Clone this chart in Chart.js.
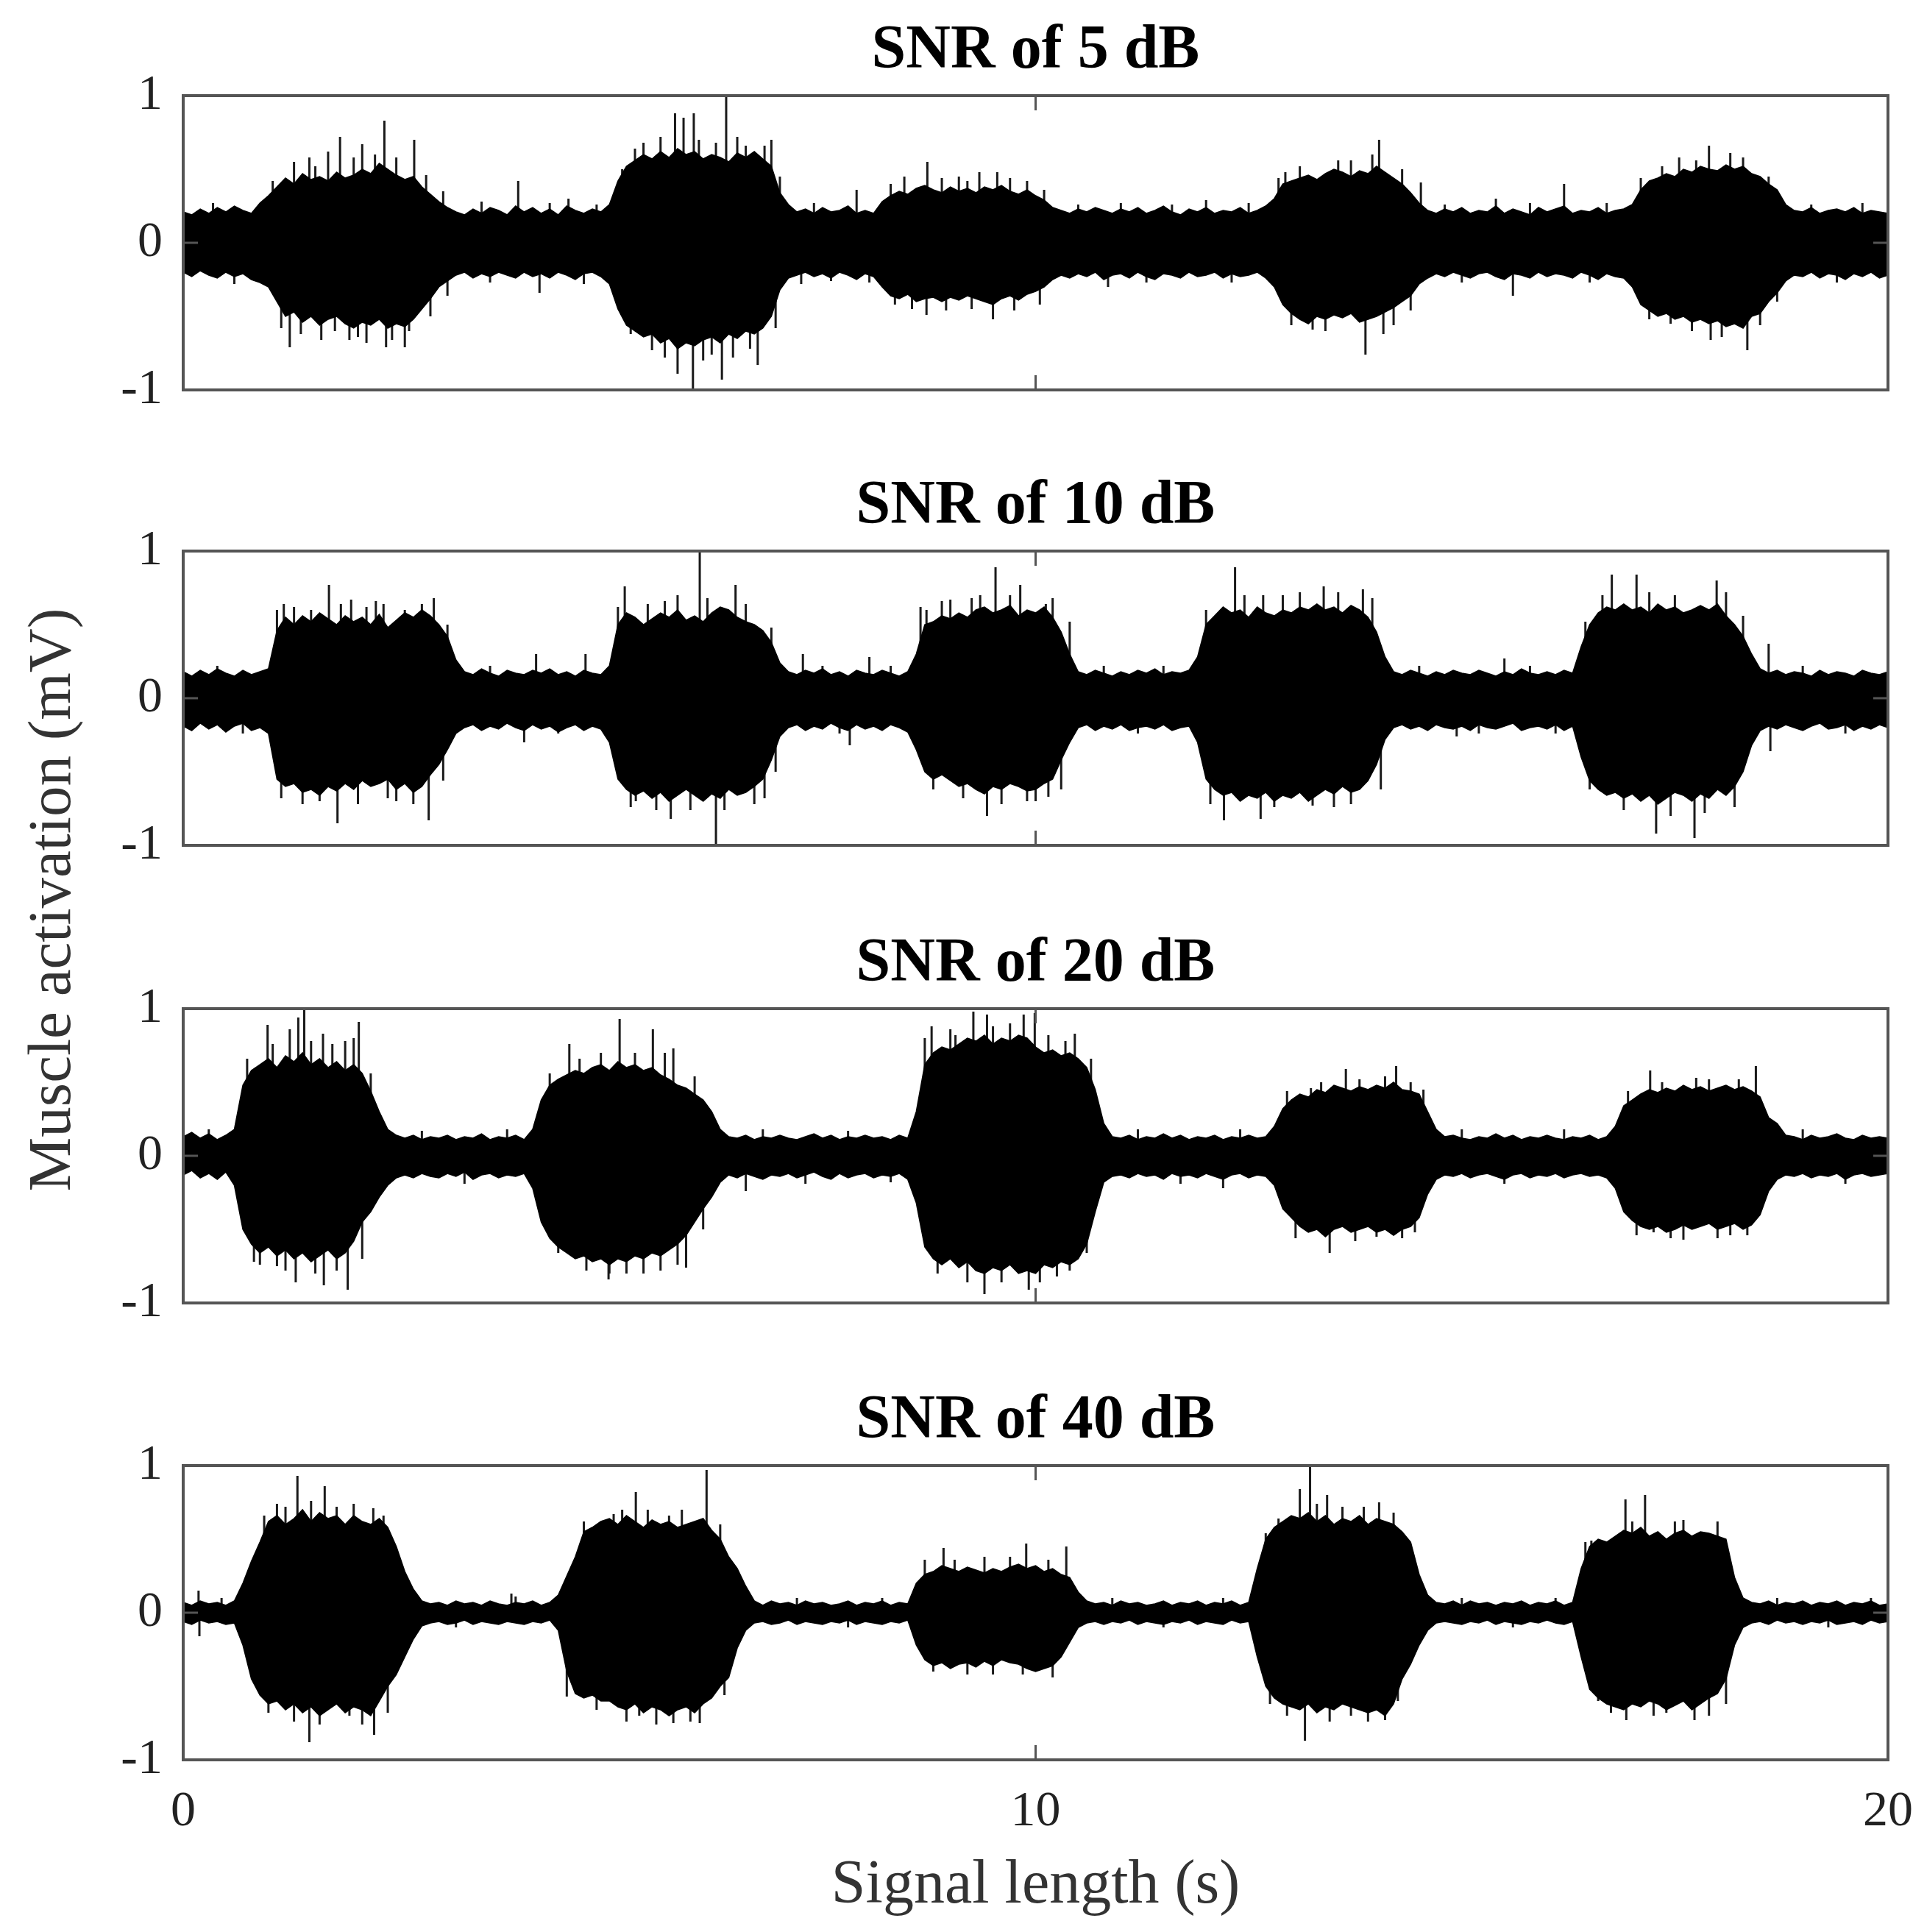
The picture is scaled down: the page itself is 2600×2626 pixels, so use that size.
<!DOCTYPE html>
<html>
<head>
<meta charset="utf-8">
<script src="https://cdn.jsdelivr.net/npm/chart.js@4.4.0/dist/chart.umd.min.js"></script>
<style>
  html, body { margin: 0; padding: 0; background: #fff; }
  body { width: 2600px; height: 2626px; position: relative; overflow: hidden; }
  canvas { position: absolute; left: 0; }
  #ylabel {
    position: absolute; left: 67px; top: 1223px;
    transform: translate(-50%, -50%) rotate(-90deg);
    font: 83px 'Liberation Serif', 'Times New Roman', serif;
    color: #333; white-space: nowrap;
  }
</style>
</head>
<body>
<div id="ylabel">Muscle activation (mV)</div>
<canvas id="c1"></canvas>
<canvas id="c2"></canvas>
<canvas id="c3"></canvas>
<canvas id="c4"></canvas>
<script>
// sample step of the envelopes (s), one value every 0.1 s from 0 to 20 s
const STEP = 0.1;
const SERIF = "'Liberation Serif', 'Times New Roman', serif";

const titles = ['SNR of 5 dB', 'SNR of 10 dB', 'SNR of 20 dB', 'SNR of 40 dB'];
const xTicks = [0, 10, 20];
const yTicks = [-1, 0, 1];

// SNR 5 dB : upper / lower envelope of the dense trace (mV)
const p1Hi = [
  0.21, 0.19, 0.23, 0.20, 0.24, 0.21, 0.25, 0.22, 0.20, 0.27,
  0.32, 0.38, 0.44, 0.40, 0.47, 0.43, 0.45, 0.42, 0.48, 0.44,
  0.46, 0.50, 0.47, 0.54, 0.50, 0.46, 0.43, 0.45, 0.38, 0.33,
  0.28, 0.24, 0.21, 0.19, 0.23, 0.20, 0.24, 0.22, 0.19, 0.25,
  0.21, 0.24, 0.20, 0.23, 0.19, 0.25, 0.22, 0.20, 0.23, 0.21,
  0.26, 0.42, 0.52, 0.56, 0.60, 0.57, 0.62, 0.58, 0.64, 0.60,
  0.62, 0.57, 0.60, 0.58, 0.55, 0.61, 0.58, 0.62, 0.57, 0.52,
  0.34, 0.26, 0.21, 0.23, 0.20, 0.24, 0.21, 0.22, 0.25, 0.20,
  0.22, 0.20, 0.28, 0.32, 0.35, 0.33, 0.37, 0.39, 0.36, 0.34,
  0.38, 0.35, 0.37, 0.34, 0.38, 0.36, 0.39, 0.35, 0.33, 0.36,
  0.32, 0.29, 0.24, 0.22, 0.20, 0.23, 0.21, 0.24, 0.22, 0.20,
  0.23, 0.21, 0.24, 0.20, 0.22, 0.25, 0.21, 0.19, 0.23, 0.21,
  0.24, 0.20, 0.22, 0.21, 0.24, 0.20, 0.22, 0.25, 0.30, 0.40,
  0.42, 0.44, 0.46, 0.43, 0.47, 0.50, 0.48, 0.45, 0.49, 0.47,
  0.52, 0.48, 0.44, 0.40, 0.34, 0.27, 0.22, 0.20, 0.23, 0.21,
  0.24, 0.20, 0.22, 0.21, 0.25, 0.20, 0.23, 0.21, 0.19, 0.24,
  0.21, 0.23, 0.25, 0.20, 0.22, 0.21, 0.24, 0.20, 0.22, 0.23,
  0.26, 0.36, 0.42, 0.44, 0.47, 0.45, 0.50, 0.48, 0.52, 0.50,
  0.49, 0.53, 0.50, 0.52, 0.47, 0.45, 0.40, 0.36, 0.26, 0.22,
  0.21, 0.24, 0.20, 0.22, 0.23, 0.21, 0.24, 0.20, 0.22, 0.21,
  0.20
];
const p1Lo = [
  -0.20, -0.23, -0.19, -0.22, -0.24, -0.20, -0.23, -0.21, -0.25, -0.27,
  -0.30, -0.40, -0.50, -0.47, -0.54, -0.50, -0.56, -0.52, -0.50, -0.55,
  -0.58, -0.54, -0.56, -0.52, -0.58, -0.55, -0.57, -0.52, -0.45, -0.38,
  -0.30, -0.26, -0.22, -0.20, -0.24, -0.21, -0.23, -0.20, -0.22, -0.24,
  -0.20, -0.23, -0.21, -0.24, -0.20, -0.22, -0.25, -0.21, -0.20, -0.23,
  -0.28, -0.45, -0.56, -0.60, -0.64, -0.62, -0.68, -0.65, -0.72, -0.68,
  -0.70, -0.66, -0.64, -0.68, -0.62, -0.65, -0.60, -0.62, -0.58, -0.50,
  -0.32, -0.24, -0.22, -0.20, -0.23, -0.21, -0.24, -0.20, -0.22, -0.25,
  -0.21, -0.23, -0.30, -0.36, -0.38, -0.35, -0.40, -0.38, -0.37, -0.40,
  -0.37, -0.39, -0.36, -0.38, -0.40, -0.42, -0.38, -0.36, -0.39, -0.35,
  -0.33, -0.30, -0.25, -0.22, -0.24, -0.21, -0.23, -0.20, -0.25, -0.22,
  -0.21, -0.24, -0.20, -0.23, -0.25, -0.21, -0.22, -0.24, -0.20, -0.23,
  -0.22, -0.20, -0.24, -0.21, -0.23, -0.22, -0.20, -0.24, -0.30, -0.42,
  -0.48, -0.52, -0.55, -0.50, -0.52, -0.49, -0.51, -0.48, -0.54, -0.52,
  -0.50, -0.47, -0.44, -0.40, -0.36, -0.28, -0.24, -0.21, -0.23, -0.20,
  -0.22, -0.24, -0.21, -0.20, -0.23, -0.25, -0.21, -0.22, -0.24, -0.20,
  -0.23, -0.21, -0.22, -0.24, -0.20, -0.22, -0.25, -0.21, -0.23, -0.24,
  -0.30, -0.42, -0.46, -0.50, -0.48, -0.52, -0.50, -0.54, -0.52, -0.55,
  -0.53, -0.57, -0.55, -0.58, -0.50, -0.48, -0.40, -0.34, -0.26, -0.22,
  -0.23, -0.20, -0.24, -0.21, -0.22, -0.25, -0.21, -0.23, -0.20, -0.24,
  -0.22
];
// tall isolated peaks: time (s) and value (mV)
const p1SpikeT = [1.25, 1.48, 1.84, 1.95, 2.1, 2.15, 2.36, 2.38, 2.6, 2.71, 3.93, 4.18, 4.52,
  5.4, 5.5, 5.77, 5.8, 5.87, 5.98, 5.99, 6.1, 6.32, 6.37, 6.5, 6.74, 6.9, 7.25, 7.9,
  8.46, 8.55, 8.72, 8.73, 9.1, 9.34, 9.5, 9.55, 10.85, 12.0, 12.93, 13.25, 13.55, 13.87,
  14.03, 14.08, 14.52, 15.4, 15.6, 16.2, 17.45, 17.55, 17.9, 17.92, 18.15, 18.35];
const p1SpikeV = [-0.71, 0.58, 0.72, -0.66, 0.67, -0.68, 0.83, -0.71, -0.71, 0.70, 0.42, -0.34, 0.30,
  0.68, -0.73, 0.88, -0.89, 0.85, -1.0, 0.88, -0.80, -0.93, 1.0, 0.72, -0.83, 0.70, -0.28, 0.36,
  0.45, -0.45, -0.49, 0.55, 0.45, 0.48, -0.52, 0.48, -0.30, 0.29, 0.48, -0.59, 0.56, -0.76,
  0.70, -0.62, 0.41, 0.30, -0.36, 0.40, -0.55, 0.58, 0.66, -0.66, 0.61, -0.73];
// smaller peaks just past the envelope
const p1SmallT = [0.35, 0.6, 1.05, 1.15, 1.3, 1.38, 1.55, 1.62, 1.7, 1.78, 2.0, 2.05, 2.25, 2.45,
  2.5, 2.65, 2.85, 2.9, 3.05, 3.1, 3.5, 3.6, 4.3, 4.7, 4.85, 5.15, 5.25, 5.3, 5.6, 5.65, 6.05,
  6.2, 6.25, 6.45, 6.6, 6.65, 6.82, 6.95, 7.0, 7.4, 7.6, 8.05, 8.3, 8.35, 8.9, 8.95, 9.2, 9.25,
  9.7, 9.75, 9.9, 10.05, 10.1, 10.5, 11.0, 11.3, 11.6, 12.3, 12.5, 12.85, 13.0, 13.1, 13.4,
  13.7, 13.95, 14.2, 14.3, 14.4, 14.8, 15.0, 15.8, 16.5, 16.7, 17.1, 17.2, 17.35, 17.7, 17.75,
  18.05, 18.3, 18.5, 18.6, 18.7, 19.1, 19.4, 19.7];
const p1SmallV = [0.27, -0.28, 0.42, -0.58, 0.55, -0.62, 0.52, -0.66, 0.62, -0.60, 0.58, -0.64, 0.60, -0.66,
  0.58, -0.60, 0.46, -0.50, 0.35, -0.36, 0.28, -0.27, 0.27, -0.28, 0.26, 0.50, -0.62, 0.64, 0.72, -0.78, 0.70,
  -0.76, 0.68, -0.78, 0.66, -0.72, 0.66, -0.58, 0.45, 0.27, -0.26, -0.27, 0.40, -0.42, 0.44, -0.46, 0.42, -0.45,
  0.44, -0.46, 0.42, -0.42, 0.36, 0.26, 0.27, -0.27, 0.26, -0.27, 0.27, 0.44, -0.56, 0.52, -0.60,
  0.56, 0.60, -0.56, 0.50, -0.46, 0.26, -0.27, 0.27, -0.27, 0.27, 0.44, -0.52, 0.52, -0.60, 0.56,
  -0.64, 0.58, -0.56, 0.45, -0.40, 0.26, -0.27, 0.27];

// SNR 10 dB
const p2Hi = [
  0.18, 0.15, 0.19, 0.16, 0.20, 0.17, 0.15, 0.19, 0.16, 0.18,
  0.20, 0.46, 0.55, 0.50, 0.56, 0.52, 0.58, 0.54, 0.50, 0.56,
  0.52, 0.55, 0.50, 0.57, 0.48, 0.53, 0.58, 0.55, 0.60, 0.56,
  0.50, 0.42, 0.26, 0.18, 0.16, 0.20, 0.17, 0.15, 0.19, 0.17,
  0.16, 0.19, 0.17, 0.20, 0.16, 0.18, 0.15, 0.19, 0.17, 0.16,
  0.22, 0.50, 0.58, 0.55, 0.50, 0.54, 0.58, 0.55, 0.60, 0.53,
  0.56, 0.52, 0.58, 0.62, 0.60, 0.55, 0.52, 0.50, 0.46, 0.38,
  0.24, 0.18, 0.16, 0.19, 0.17, 0.20, 0.16, 0.18, 0.15, 0.19,
  0.17, 0.16, 0.19, 0.17, 0.15, 0.18, 0.30, 0.50, 0.52, 0.56,
  0.54, 0.58, 0.55, 0.60, 0.62, 0.58, 0.60, 0.63, 0.56, 0.60,
  0.58, 0.62, 0.55, 0.45, 0.30, 0.18, 0.16, 0.19, 0.17, 0.15,
  0.18, 0.16, 0.19, 0.17, 0.20, 0.16, 0.18, 0.17, 0.19, 0.28,
  0.50, 0.56, 0.62, 0.58, 0.60, 0.55, 0.62, 0.58, 0.56, 0.60,
  0.58, 0.62, 0.60, 0.64, 0.60, 0.62, 0.58, 0.63, 0.60, 0.55,
  0.45, 0.28, 0.18, 0.16, 0.19, 0.17, 0.15, 0.18, 0.16, 0.19,
  0.17, 0.16, 0.19, 0.17, 0.15, 0.18, 0.16, 0.20, 0.17, 0.16,
  0.18, 0.16, 0.19, 0.17, 0.35, 0.50, 0.58, 0.62, 0.60, 0.64,
  0.60, 0.62, 0.58, 0.64, 0.60, 0.62, 0.58, 0.60, 0.63, 0.60,
  0.64, 0.56, 0.50, 0.42, 0.30, 0.20, 0.17, 0.19, 0.16, 0.18,
  0.17, 0.15, 0.19, 0.16, 0.18, 0.17, 0.15, 0.19, 0.17, 0.16,
  0.18
];
const p2Lo = [
  -0.19, -0.22, -0.17, -0.21, -0.18, -0.23, -0.19, -0.17, -0.22, -0.20,
  -0.24, -0.55, -0.60, -0.58, -0.64, -0.62, -0.66, -0.60, -0.63, -0.58,
  -0.62, -0.56, -0.60, -0.58, -0.55, -0.62, -0.58, -0.64, -0.60, -0.52,
  -0.45, -0.35, -0.24, -0.20, -0.18, -0.22, -0.19, -0.21, -0.17, -0.20,
  -0.22, -0.18, -0.21, -0.19, -0.23, -0.20, -0.18, -0.22, -0.19, -0.21,
  -0.30, -0.55, -0.62, -0.66, -0.63, -0.68, -0.64, -0.70, -0.66, -0.62,
  -0.66, -0.70, -0.65, -0.68, -0.62, -0.66, -0.64, -0.60, -0.55, -0.42,
  -0.26, -0.20, -0.18, -0.22, -0.19, -0.21, -0.17, -0.20, -0.22, -0.18,
  -0.21, -0.19, -0.22, -0.18, -0.20, -0.23, -0.35, -0.50, -0.55, -0.52,
  -0.56, -0.60, -0.58, -0.62, -0.65, -0.60, -0.62, -0.58, -0.60, -0.63,
  -0.62, -0.58, -0.55, -0.42, -0.30, -0.20, -0.18, -0.22, -0.19, -0.21,
  -0.18, -0.22, -0.20, -0.19, -0.21, -0.18, -0.22, -0.20, -0.19, -0.30,
  -0.55, -0.62, -0.66, -0.64, -0.70, -0.66, -0.68, -0.64, -0.70, -0.66,
  -0.68, -0.64, -0.70, -0.66, -0.62, -0.65, -0.60, -0.64, -0.62, -0.56,
  -0.45, -0.28, -0.20, -0.18, -0.21, -0.19, -0.22, -0.18, -0.20, -0.21,
  -0.19, -0.22, -0.18, -0.20, -0.21, -0.19, -0.17, -0.22, -0.20, -0.19,
  -0.21, -0.18, -0.22, -0.19, -0.40, -0.56, -0.62, -0.66, -0.64, -0.68,
  -0.65, -0.70, -0.66, -0.72, -0.68, -0.64, -0.66, -0.70, -0.65, -0.68,
  -0.62, -0.66, -0.60, -0.50, -0.32, -0.22, -0.19, -0.21, -0.18, -0.20,
  -0.22, -0.19, -0.17, -0.21, -0.20, -0.18, -0.22, -0.19, -0.21, -0.18,
  -0.20
];
const p2SpikeT = [1.18, 1.71, 1.81, 1.97, 2.26, 2.5, 2.88, 2.94, 4.0, 4.14, 4.72,
  5.18, 5.31, 5.72, 5.8, 6.06, 6.25, 6.48, 6.82, 7.27, 7.82, 8.05, 8.72, 9.0, 9.43, 9.53,
  9.82, 9.9, 10.12, 10.15, 12.21, 12.34, 12.64, 12.67, 13.25, 13.38, 13.84, 14.94, 15.5,
  16.76, 17.05, 17.28, 17.73, 17.99, 18.6, 18.62];
const p2SpikeV = [0.64, 0.77, -0.85, 0.67, 0.66, -0.70, -0.83, 0.68, -0.30, 0.30, 0.30,
  0.76, -0.70, -0.82, 0.70, 1.0, -1.0, 0.77, -0.68, 0.30, -0.32, 0.28, 0.60, 0.67, -0.80, 0.89,
  0.77, -0.70, 0.64, -0.67, -0.83, 0.89, -0.82, 0.70, -0.73, 0.76, 0.74, -0.26, 0.27,
  0.84, 0.84, -0.92, -0.95, 0.80, 0.37, -0.36];
const p2SmallT = [0.4, 0.7, 1.1, 1.15, 1.3, 1.4, 1.5, 1.6, 1.85, 2.05, 2.15, 2.35, 2.4, 2.6, 2.7,
  2.8, 3.05, 3.1, 3.6, 4.4, 5.1, 5.25, 5.45, 5.55, 5.65, 5.95, 6.15, 6.35, 6.6, 6.7, 6.9, 6.95,
  7.5, 7.7, 8.3, 8.65, 8.8, 8.9, 9.15, 9.25, 9.35, 9.6, 9.7, 10.0, 10.2, 10.3, 10.4, 10.8, 11.2,
  11.5, 12.0, 12.05, 12.45, 12.8, 12.9, 13.1, 13.5, 13.55, 13.7, 13.95, 14.05, 14.5, 15.2, 15.8,
  16.1, 16.45, 16.5, 16.65, 16.9, 17.2, 17.45, 17.5, 17.85, 18.1, 18.2, 18.3, 19.0, 19.5];
const p2SmallV = [0.22, -0.24, 0.60, -0.68, 0.62, -0.72, 0.60, -0.70, 0.64, -0.72, 0.62, 0.64, -0.68, 0.60, -0.72,
  0.64, -0.56, 0.50, 0.22, -0.24, 0.62, -0.74, 0.64, -0.76, 0.66, -0.76, 0.68, -0.76, 0.64, -0.72, 0.48, -0.50,
  0.22, -0.24, 0.22, 0.62, -0.62, 0.66, -0.68, 0.68, 0.70, -0.72, 0.70, -0.70, 0.68, -0.62, 0.52, 0.22, -0.24,
  0.22, 0.60, -0.72, 0.70, -0.74, 0.70, 0.72, -0.74, 0.72, -0.72, 0.68, -0.62, 0.22, -0.24, 0.22,
  -0.24, 0.52, -0.62, 0.70, -0.76, 0.72, -0.80, 0.70, -0.78, 0.72, -0.74, 0.56, 0.22, -0.24];

// SNR 20 dB
const p3Hi = [
  0.13, 0.16, 0.12, 0.15, 0.11, 0.14, 0.18, 0.48, 0.58, 0.62,
  0.66, 0.60, 0.68, 0.64, 0.70, 0.62, 0.66, 0.60, 0.64, 0.58,
  0.62, 0.56, 0.44, 0.30, 0.18, 0.14, 0.12, 0.14, 0.11, 0.13,
  0.12, 0.14, 0.11, 0.13, 0.12, 0.15, 0.11, 0.13, 0.12, 0.14,
  0.11, 0.18, 0.38, 0.48, 0.52, 0.55, 0.58, 0.56, 0.60, 0.62,
  0.58, 0.64, 0.60, 0.62, 0.58, 0.60, 0.55, 0.52, 0.48, 0.46,
  0.42, 0.38, 0.30, 0.18, 0.13, 0.12, 0.14, 0.11, 0.13, 0.12,
  0.14, 0.12, 0.11, 0.13, 0.15, 0.12, 0.14, 0.11, 0.13, 0.12,
  0.14, 0.12, 0.13, 0.11, 0.14, 0.12, 0.30, 0.62, 0.70, 0.74,
  0.72, 0.76, 0.80, 0.78, 0.82, 0.76, 0.80, 0.78, 0.82, 0.80,
  0.74, 0.70, 0.72, 0.68, 0.70, 0.66, 0.60, 0.45, 0.22, 0.13,
  0.12, 0.14, 0.11, 0.13, 0.12, 0.15, 0.12, 0.14, 0.11, 0.13,
  0.12, 0.14, 0.11, 0.13, 0.12, 0.14, 0.12, 0.13, 0.20, 0.32,
  0.38, 0.42, 0.40, 0.45, 0.43, 0.48, 0.46, 0.44, 0.47, 0.45,
  0.48, 0.46, 0.50, 0.45, 0.44, 0.42, 0.30, 0.18, 0.13, 0.14,
  0.12, 0.11, 0.13, 0.12, 0.15, 0.12, 0.14, 0.11, 0.13, 0.12,
  0.14, 0.12, 0.11, 0.13, 0.12, 0.14, 0.11, 0.13, 0.20, 0.34,
  0.38, 0.42, 0.45, 0.43, 0.46, 0.44, 0.48, 0.45, 0.47, 0.44,
  0.46, 0.48, 0.45, 0.47, 0.44, 0.40, 0.26, 0.22, 0.14, 0.13,
  0.11, 0.14, 0.12, 0.13, 0.15, 0.12, 0.11, 0.14, 0.12, 0.13,
  0.12
];
const p3Lo = [
  -0.13, -0.10, -0.15, -0.12, -0.16, -0.11, -0.20, -0.50, -0.60, -0.66,
  -0.62, -0.68, -0.64, -0.70, -0.66, -0.72, -0.68, -0.64, -0.70, -0.66,
  -0.58, -0.45, -0.38, -0.28, -0.20, -0.15, -0.13, -0.15, -0.12, -0.14,
  -0.15, -0.12, -0.14, -0.11, -0.16, -0.13, -0.12, -0.15, -0.13, -0.14,
  -0.12, -0.22, -0.45, -0.56, -0.62, -0.66, -0.70, -0.68, -0.72, -0.70,
  -0.74, -0.70, -0.72, -0.68, -0.70, -0.66, -0.68, -0.64, -0.60, -0.54,
  -0.45, -0.36, -0.28, -0.18, -0.13, -0.15, -0.12, -0.14, -0.16, -0.13,
  -0.14, -0.12, -0.15, -0.13, -0.11, -0.14, -0.16, -0.12, -0.15, -0.13,
  -0.12, -0.15, -0.13, -0.14, -0.12, -0.16, -0.32, -0.62, -0.70, -0.74,
  -0.70, -0.76, -0.72, -0.78, -0.80, -0.76, -0.78, -0.74, -0.80, -0.78,
  -0.80, -0.74, -0.76, -0.72, -0.74, -0.70, -0.60, -0.38, -0.18, -0.14,
  -0.13, -0.15, -0.12, -0.14, -0.13, -0.16, -0.12, -0.14, -0.13, -0.15,
  -0.12, -0.14, -0.16, -0.13, -0.12, -0.15, -0.13, -0.14, -0.20, -0.36,
  -0.42, -0.48, -0.52, -0.50, -0.55, -0.50, -0.48, -0.52, -0.50, -0.48,
  -0.52, -0.50, -0.54, -0.50, -0.48, -0.42, -0.26, -0.16, -0.13, -0.14,
  -0.12, -0.15, -0.13, -0.12, -0.14, -0.16, -0.13, -0.12, -0.15, -0.13,
  -0.14, -0.12, -0.15, -0.13, -0.12, -0.14, -0.13, -0.15, -0.22, -0.38,
  -0.44, -0.48, -0.50, -0.48, -0.52, -0.50, -0.47, -0.50, -0.48, -0.46,
  -0.50, -0.48, -0.46, -0.50, -0.47, -0.40, -0.24, -0.16, -0.13, -0.14,
  -0.12, -0.15, -0.13, -0.14, -0.12, -0.16, -0.13, -0.12, -0.14, -0.13,
  -0.12
];
const p3SpikeT = [0.83, 0.99, 1.1, 1.25, 1.32, 1.35, 1.42, 1.64, 1.65, 1.93, 2.0, 2.06,
  4.53, 4.73, 4.99, 5.12, 5.2, 5.51, 5.6, 5.75, 5.9, 6.6, 8.78, 9.06, 9.12, 9.27, 9.40,
  9.43, 9.86, 9.92, 9.99, 10.05, 10.4, 10.46, 12.2, 13.23, 13.45, 13.64, 14.0, 14.23, 14.45,
  14.55, 17.21, 17.25, 17.6, 17.75, 18.15, 18.45];
const p3SpikeV = [-0.72, 0.89, -0.75, 0.86, -0.86, 0.94, 1.0, 0.83, -0.88, -0.91, 0.80, 0.91,
  0.76, -0.78, -0.84, 0.93, -0.80, 0.86, -0.78, 0.73, -0.76, -0.24, 0.88, 0.82, -0.74, 0.98, -0.94,
  0.96, 0.96, -0.91, 0.97, -0.86, -0.78, 0.83, -0.22, 0.46, -0.66, 0.59, -0.55, 0.61, -0.52,
  0.45, 0.58, -0.52, -0.57, 0.53, -0.54, 0.61];
const p3SmallT = [0.3, 0.75, 0.9, 1.05, 1.2, 1.5, 1.55, 1.75, 1.8, 1.9, 2.1, 2.2, 2.8, 3.3, 3.8,
  4.3, 4.4, 4.65, 4.9, 5.0, 5.3, 5.4, 5.65, 5.8, 6.0, 6.1, 6.8, 7.3, 7.8, 8.3, 8.7, 8.85, 9.0,
  9.2, 9.5, 9.6, 9.7, 10.15, 10.25, 10.35, 10.6, 10.65, 11.2, 11.7, 12.4, 12.95, 13.05, 13.35,
  13.8, 13.75, 14.1, 14.3, 14.4, 15.0, 15.5, 16.2, 16.95, 17.05, 17.35, 17.45, 17.9, 18.0, 18.25,
  18.35, 19.0, 19.5];
const p3SmallV = [0.18, 0.66, -0.74, 0.76, -0.78, 0.78, -0.80, 0.76, -0.78, 0.78, -0.70, 0.56, 0.17, -0.19, 0.18,
  0.56, -0.66, 0.66, 0.70, -0.80, 0.70, -0.80, 0.70, -0.74, 0.54, -0.50, 0.18, -0.19, 0.17, -0.18, 0.80, -0.80, 0.86,
  -0.86, 0.88, -0.86, 0.90, 0.82, -0.82, 0.78, -0.66, 0.66, 0.18, -0.19, 0.18, 0.44, -0.56, 0.50,
  0.52, -0.58, 0.54, -0.56, 0.50, 0.18, -0.19, 0.18, 0.44, -0.54, 0.50, -0.56, 0.52, -0.56, 0.52,
  -0.54, 0.18, -0.19];

// SNR 40 dB
const p4Hi = [
  0.07, 0.05, 0.08, 0.06, 0.07, 0.05, 0.08, 0.20, 0.35, 0.48,
  0.62, 0.66, 0.60, 0.64, 0.70, 0.62, 0.68, 0.64, 0.66, 0.60,
  0.66, 0.62, 0.60, 0.64, 0.58, 0.45, 0.28, 0.16, 0.08, 0.06,
  0.07, 0.05, 0.08, 0.06, 0.07, 0.05, 0.08, 0.06, 0.05, 0.07,
  0.06, 0.08, 0.05, 0.07, 0.12, 0.25, 0.38, 0.55, 0.58, 0.62,
  0.64, 0.60, 0.66, 0.62, 0.58, 0.63, 0.60, 0.62, 0.58, 0.60,
  0.62, 0.64, 0.56, 0.50, 0.38, 0.30, 0.18, 0.08, 0.05, 0.08,
  0.06, 0.07, 0.05, 0.08, 0.06, 0.07, 0.05, 0.06, 0.08, 0.05,
  0.07, 0.06, 0.08, 0.05, 0.07, 0.06, 0.20, 0.26, 0.28, 0.32,
  0.30, 0.28, 0.31, 0.29, 0.27, 0.30, 0.28, 0.31, 0.33, 0.30,
  0.32, 0.28, 0.30, 0.26, 0.24, 0.14, 0.08, 0.06, 0.07, 0.05,
  0.08, 0.06, 0.07, 0.05, 0.06, 0.08, 0.05, 0.07, 0.06, 0.08,
  0.05, 0.07, 0.06, 0.08, 0.05, 0.07, 0.30, 0.50, 0.58, 0.62,
  0.66, 0.64, 0.68, 0.62, 0.66, 0.60, 0.64, 0.62, 0.66, 0.60,
  0.64, 0.62, 0.60, 0.55, 0.48, 0.26, 0.12, 0.07, 0.06, 0.08,
  0.05, 0.08, 0.06, 0.07, 0.05, 0.07, 0.06, 0.08, 0.05, 0.07,
  0.06, 0.08, 0.05, 0.07, 0.30, 0.45, 0.50, 0.48, 0.52, 0.56,
  0.54, 0.58, 0.52, 0.55, 0.50, 0.54, 0.56, 0.52, 0.55, 0.54,
  0.52, 0.50, 0.24, 0.10, 0.07, 0.06, 0.08, 0.05, 0.07, 0.06,
  0.08, 0.05, 0.07, 0.06, 0.08, 0.05, 0.07, 0.06, 0.08, 0.05,
  0.06
];
const p4Lo = [
  -0.06, -0.08, -0.05, -0.07, -0.06, -0.08, -0.07, -0.22, -0.45, -0.56,
  -0.62, -0.60, -0.66, -0.62, -0.68, -0.64, -0.70, -0.66, -0.62, -0.68,
  -0.64, -0.66, -0.70, -0.60, -0.50, -0.42, -0.30, -0.18, -0.09, -0.07,
  -0.06, -0.08, -0.07, -0.05, -0.08, -0.06, -0.07, -0.08, -0.06, -0.07,
  -0.08, -0.06, -0.07, -0.05, -0.12, -0.40, -0.55, -0.58, -0.56, -0.60,
  -0.60, -0.64, -0.66, -0.62, -0.68, -0.64, -0.66, -0.70, -0.66, -0.64,
  -0.68, -0.62, -0.58, -0.50, -0.44, -0.24, -0.12, -0.07, -0.06, -0.08,
  -0.07, -0.05, -0.08, -0.06, -0.07, -0.08, -0.06, -0.07, -0.05, -0.08,
  -0.06, -0.07, -0.08, -0.06, -0.07, -0.05, -0.22, -0.32, -0.36, -0.34,
  -0.38, -0.35, -0.34, -0.37, -0.33, -0.36, -0.32, -0.34, -0.35, -0.38,
  -0.40, -0.38, -0.36, -0.30, -0.20, -0.10, -0.07, -0.06, -0.08, -0.06,
  -0.07, -0.05, -0.08, -0.06, -0.07, -0.08, -0.06, -0.07, -0.05, -0.08,
  -0.06, -0.07, -0.08, -0.05, -0.07, -0.06, -0.30, -0.50, -0.58, -0.62,
  -0.64, -0.66, -0.62, -0.68, -0.64, -0.66, -0.62, -0.64, -0.66, -0.68,
  -0.66, -0.70, -0.62, -0.45, -0.35, -0.22, -0.12, -0.07, -0.06, -0.07,
  -0.08, -0.06, -0.07, -0.05, -0.08, -0.06, -0.07, -0.08, -0.06, -0.07,
  -0.05, -0.07, -0.08, -0.06, -0.30, -0.52, -0.58, -0.62, -0.64, -0.66,
  -0.62, -0.64, -0.60, -0.62, -0.66, -0.63, -0.60, -0.66, -0.62, -0.58,
  -0.55, -0.45, -0.22, -0.10, -0.07, -0.06, -0.08, -0.05, -0.07, -0.06,
  -0.08, -0.06, -0.07, -0.05, -0.08, -0.07, -0.06, -0.08, -0.05, -0.07,
  -0.06
];
const p4SpikeT = [0.18, 0.19, 1.2, 1.21, 1.34, 1.48, 1.66, 1.95, 2.23, 2.24, 3.85,
  4.5, 5.05, 5.31, 5.35, 5.7, 5.75, 6.06, 6.14, 8.92, 9.2, 9.89, 10.36,
  12.75, 12.85, 13.1, 13.16, 13.22, 13.42, 13.7, 14.03, 14.1,
  16.52, 16.6, 16.92, 16.93, 17.15, 17.4, 17.6, 17.73];
const p4SpikeV = [0.15, -0.16, 0.72, -0.65, 0.93, -0.88, 0.86, -0.70, 0.71, -0.83, 0.13,
  -0.57, 0.67, 0.82, -0.70, 0.66, -0.75, -0.75, 0.97, 0.44, -0.42, 0.47, 0.45,
  -0.62, 0.64, 0.84, -0.87, 0.99, 0.80, -0.70, 0.75, -0.73,
  0.49, -0.60, 0.77, -0.73, 0.80, -0.68, 0.63, -0.73];
const p4SmallT = [0.45, 0.95, 1.0, 1.1, 1.3, 1.5, 1.6, 1.8, 2.0, 2.1, 2.35, 2.4, 3.2, 3.9, 4.7,
  4.85, 5.15, 5.2, 5.45, 5.55, 5.85, 5.95, 6.3, 6.35, 7.2, 7.8, 8.2, 8.7, 8.8, 9.05, 9.4, 9.5,
  9.7, 9.85, 10.15, 10.2, 10.9, 11.5, 12.2, 12.7, 12.95, 13.3, 13.45, 13.6, 13.85, 13.9, 14.2,
  14.25, 15.0, 15.6, 16.1, 16.45, 16.75, 17.0, 17.25, 17.5, 17.9, 18.0, 18.1, 18.7, 19.3, 19.8];
const p4SmallV = [0.10, 0.66, -0.68, 0.74, -0.74, 0.76, -0.76, 0.72, 0.74, -0.76, 0.66, -0.68, -0.10, 0.11, 0.62,
  -0.66, 0.70, -0.74, 0.70, -0.76, 0.70, -0.74, 0.60, -0.56, 0.10, -0.10, 0.10, 0.36, -0.40, 0.36, 0.38, -0.42,
  0.38, -0.42, 0.36, -0.44, 0.10, -0.10, 0.10, 0.54, -0.70, 0.74, -0.74, 0.72, 0.72, -0.74, 0.68,
  -0.60, 0.10, -0.10, 0.10, 0.48, -0.68, 0.62, -0.70, 0.62, -0.70, 0.62, -0.62, 0.10, -0.10, 0.10];

const panels = [
  { id: 'c1', title: titles[0], top: 130, hi: p1Hi, lo: p1Lo,
    st: p1SpikeT.concat(p1SmallT), sv: p1SpikeV.concat(p1SmallV), showX: false },
  { id: 'c2', title: titles[1], top: 749, hi: p2Hi, lo: p2Lo,
    st: p2SpikeT.concat(p2SmallT), sv: p2SpikeV.concat(p2SmallV), showX: false },
  { id: 'c3', title: titles[2], top: 1371, hi: p3Hi, lo: p3Lo,
    st: p3SpikeT.concat(p3SmallT), sv: p3SpikeV.concat(p3SmallV), showX: false },
  { id: 'c4', title: titles[3], top: 1992, hi: p4Hi, lo: p4Lo,
    st: p4SpikeT.concat(p4SmallT), sv: p4SpikeV.concat(p4SmallV), showX: true }
];

const PLOT_H = 400;      // height of each plot box
const HEAD = 130;        // room above the box for the title
const LEFT = 249;        // left edge of the boxes
const RIGHT_PAD = 34;    // 2600 - right edge of the boxes

function toPoints(vals) {
  return vals.map((v, i) => ({ x: Math.round(i * STEP * 100) / 100, y: v }));
}

// each spike is a vertical stroke from 0 to its value, strokes separated by gaps
function spikePoints(ts, vs) {
  const pts = [];
  ts.forEach((t, i) => {
    pts.push({ x: t, y: 0 }, { x: t, y: vs[i] }, { x: t, y: null });
  });
  return pts;
}

// box round the plot plus the small inward tick marks
const boxFrame = {
  id: 'boxFrame',
  afterDatasetsDraw(chart) {
    const { ctx, chartArea: a, scales } = chart;
    ctx.save();
    ctx.strokeStyle = '#555';
    ctx.lineWidth = 4;
    ctx.strokeRect(a.left, a.top, a.right - a.left, a.bottom - a.top);
    ctx.lineWidth = 3;
    ctx.beginPath();
    xTicks.forEach(v => {
      const x = scales.x.getPixelForValue(v);
      ctx.moveTo(x, a.bottom); ctx.lineTo(x, a.bottom - 20);
      ctx.moveTo(x, a.top); ctx.lineTo(x, a.top + 20);
    });
    yTicks.forEach(v => {
      const y = scales.y.getPixelForValue(v);
      ctx.moveTo(a.left, y); ctx.lineTo(a.left + 20, y);
      ctx.moveTo(a.right, y); ctx.lineTo(a.right - 20, y);
    });
    ctx.stroke();
    ctx.restore();
  }
};

function makeChart(p) {
  const canvas = document.getElementById(p.id);
  const axisH = p.showX ? 2626 - (p.top + PLOT_H) : 20;
  canvas.width = 2600;
  canvas.height = HEAD + PLOT_H + axisH;
  canvas.style.top = (p.top - HEAD) + 'px';

  return new Chart(canvas.getContext('2d'), {
    type: 'line',
    data: {
      datasets: [{
        data: toPoints(p.hi),
        borderColor: '#000',
        backgroundColor: '#000',
        borderWidth: 1.5,
        pointRadius: 0,
        tension: 0,
        fill: '+1'
      }, {
        data: toPoints(p.lo),
        borderColor: '#000',
        borderWidth: 1.5,
        pointRadius: 0,
        tension: 0,
        fill: false
      }, {
        data: spikePoints(p.st, p.sv),
        borderColor: '#1a1a1a',
        borderWidth: 3,
        pointRadius: 0,
        spanGaps: false,
        fill: false
      }]
    },
    options: {
      responsive: false,
      animation: false,
      devicePixelRatio: 1,
      layout: { padding: { left: 0, right: RIGHT_PAD, top: 0, bottom: 0 } },
      plugins: {
        legend: { display: false },
        tooltip: { enabled: false },
        title: {
          display: true,
          text: p.title,
          fullSize: false,
          color: '#000',
          font: { family: SERIF, size: 84, weight: 'bold', lineHeight: 1 },
          padding: { top: 28, bottom: 18 }
        }
      },
      scales: {
        x: {
          type: 'linear',
          min: 0,
          max: 20,
          grid: { display: false },
          border: { display: false },
          ticks: {
            display: p.showX,
            stepSize: 10,
            padding: 22,
            maxRotation: 0,
            color: '#222',
            font: { family: SERIF, size: 68 }
          },
          title: {
            display: p.showX,
            text: 'Signal length (s)',
            color: '#333',
            font: { family: SERIF, size: 84 },
            padding: { top: 0, bottom: 12 }
          },
          // keep every box the same width: no extra room for the end labels
          afterFit: s => { s.height = axisH; s.paddingLeft = 0; s.paddingRight = 0; }
        },
        y: {
          min: -1,
          max: 1,
          grid: { display: false },
          border: { display: false },
          ticks: {
            stepSize: 1,
            padding: 20,
            color: '#222',
            font: { family: SERIF, size: 68 }
          },
          afterFit: s => { s.width = LEFT; s.paddingTop = 0; s.paddingBottom = 0; }
        }
      }
    },
    plugins: [boxFrame]
  });
}

panels.forEach(makeChart);
</script>
</body>
</html>
